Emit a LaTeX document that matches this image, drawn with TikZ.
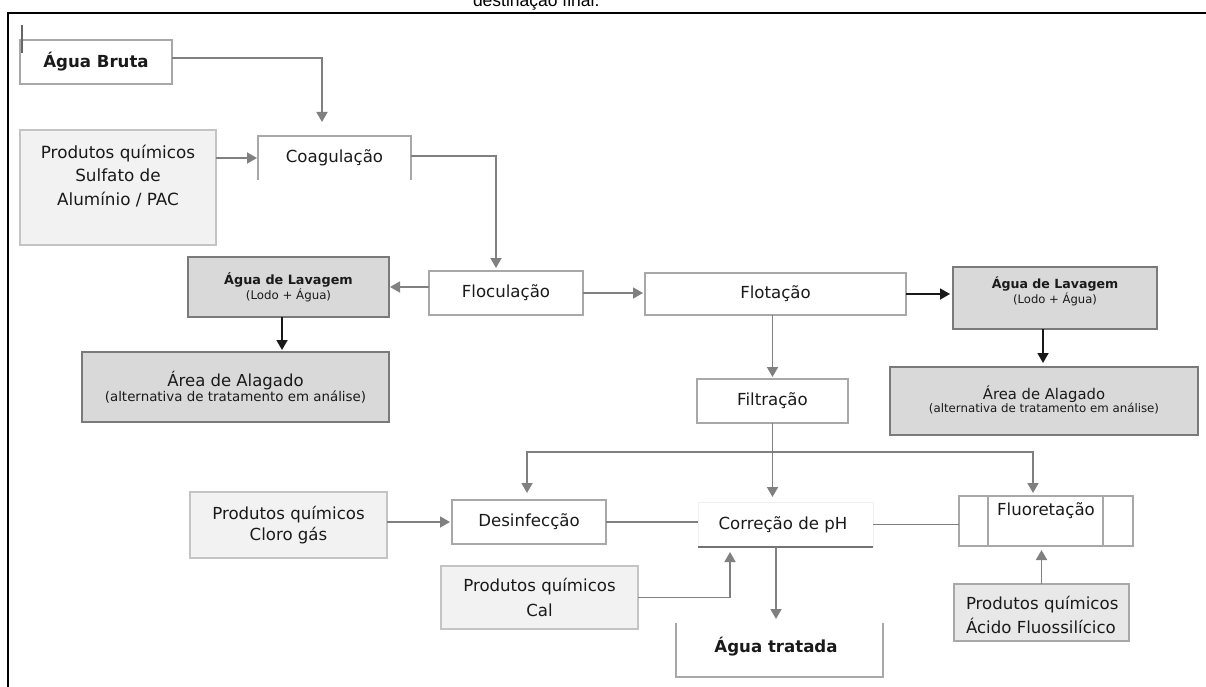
\documentclass[tikz,border=0pt]{standalone}
\usepackage{fontspec}
\setmainfont{DejaVu Sans}
\newfontfamily\hdrfont{Liberation Sans}
\usetikzlibrary{arrows.meta}
\definecolor{conncol}{HTML}{808080}
\definecolor{bordercol}{HTML}{A8A8A8}
\definecolor{lightborder}{HTML}{C4C4C4}
\definecolor{lightfill}{HTML}{F2F2F2}
\definecolor{acidfill}{HTML}{E8E8E8}
\definecolor{darkfill}{HTML}{D9D9D9}
\definecolor{darkborder}{HTML}{7A7A7A}
\definecolor{txt}{HTML}{1A1A1A}
\begin{document}
\begin{tikzpicture}[x=1pt,y=-1pt,
  every node/.style={inner sep=0pt, outer sep=0pt, text=txt, align=center},
  mainfont/.style={font=\fontsize{16.6}{22}\selectfont},
  wbox/.style={rectangle, draw=bordercol, line width=1.3pt, fill=white},
  lbox/.style={rectangle, draw=lightborder, line width=1.3pt, fill=lightfill},
  gbox/.style={rectangle, draw=darkborder, line width=1.5pt, fill=darkfill},
  nobox/.style={rectangle},
  openline/.style={draw=bordercol, line width=1.3pt},
  conn/.style={draw=conncol, line width=1.8pt, -{Triangle[length=10pt,width=11pt]}},
  plainconn/.style={draw=conncol, line width=1.8pt},
  blkconn/.style={draw=black!90, line width=1.8pt, -{Triangle[length=10pt,width=11pt]}}
]
\useasboundingbox (0,0) rectangle (1206,687);

% frame and clipped header
\node[anchor=base west, text=black] (hdr) at (473,7) {\hdrfont\fontsize{17.5}{20}\selectfont destinação final.};
\draw[black, line width=1.2pt] (8,687) -- (8,13) -- (1206,13);

% nodes
\node[wbox, minimum width=152pt, minimum height=44pt, font=\fontsize{16.6}{22}\selectfont\bfseries] (bruta) at (96,62) {Água Bruta};
\draw[draw=black!60, line width=1.5pt] ([xshift=2pt,yshift=15pt]bruta.north west) -- ([xshift=2pt,yshift=-13pt]bruta.north west);

\node[lbox, minimum width=196pt, minimum height=115pt] (sulf) at (118,187.5) {};
\node[font=\fontsize{16.8}{23.5}\selectfont] (sulft) at (118,176) {Produtos químicos\\Sulfato de\\Alumínio / PAC};

\node[nobox, minimum width=153pt, minimum height=44pt, mainfont] (coag) at (334.5,158) {Coagulação};
\draw[openline] (coag.south west) |- (coag.north east) -- (coag.south east);

\node[wbox, minimum width=154pt, minimum height=44pt, mainfont] (floc) at (506,293) {Floculação};

\node[gbox, minimum width=201pt, minimum height=60pt] (lav1) at (288.5,287)
  {{\fontsize{12.8}{16}\selectfont\bfseries Água de Lavagem}\\{\fontsize{11.8}{16}\selectfont (Lodo + Água)}};

\node[gbox, minimum width=307pt, minimum height=70pt] (area1) at (235.5,387)
  {{\fontsize{16.5}{19}\selectfont Área de Alagado}\\{\fontsize{13.4}{19}\selectfont (alternativa de tratamento em análise)}};

\node[wbox, minimum width=261pt, minimum height=42pt, mainfont] (flot) at (775.5,294) {Flotação};

\node[gbox, minimum width=204pt, minimum height=62pt] (lav2) at (1055,298) {};
\node (lav2t) at (1055,291.5)
  {{\fontsize{12.6}{17}\selectfont\bfseries Água de Lavagem}\\{\fontsize{11.6}{17}\selectfont (Lodo + Água)}};

\node[gbox, minimum width=308pt, minimum height=68pt] (area2) at (1044,401) {};
\node (area2t) at (1044,400)
  {{\fontsize{14.8}{20}\selectfont Área de Alagado}\\{\fontsize{11.8}{20}\selectfont (alternativa de tratamento em análise)}};

\node[wbox, minimum width=151pt, minimum height=44pt, mainfont] (filt) at (772.5,401) {Filtração};

\node[wbox, minimum width=154pt, minimum height=44pt, mainfont] (desinf) at (529,522) {Desinfecção};

\node[lbox, minimum width=197pt, minimum height=66pt, font=\fontsize{16.6}{21}\selectfont] (cloro) at (288.5,525) {Produtos químicos\\Cloro gás};

\node[rectangle, draw=black!6, line width=1pt, minimum width=175pt, minimum height=45pt] (corr) at (785.5,524.5) {};
\node[mainfont] (corrt) at (783,525) {Correção de pH};
\draw[draw=black!55, line width=1.5pt] (corr.south west) -- (corr.south east);

\node[wbox, minimum width=174pt, minimum height=50pt] (fluor) at (1046,521) {};
\draw[draw=bordercol, line width=1.3pt] ([xshift=29pt]fluor.north west) -- ([xshift=29pt]fluor.south west);
\draw[draw=bordercol, line width=1.3pt] ([xshift=-30pt]fluor.north east) -- ([xshift=-30pt]fluor.south east);
\node[mainfont] (fluort) at (1046,511) {Fluoretação};

\node[rectangle, draw=bordercol, line width=1.3pt, fill=acidfill, minimum width=175pt, minimum height=57pt] (acido) at (1041.5,612.5) {};
\node[anchor=west, align=left, font=\fontsize{16.6}{24}\selectfont] (acidot) at (966,615) {Produtos químicos\\Ácido Fluossilícico};

\node[lbox, minimum width=197pt, minimum height=63pt, font=\fontsize{16.6}{25}\selectfont] (cal) at (539.5,597.5) {Produtos químicos\\Cal};

\node[nobox, minimum width=207pt, minimum height=54pt] (trat) at (779.5,650) {};
\node[font=\fontsize{16.6}{22}\selectfont\bfseries] (tratt) at (776,647) {Água tratada};
\draw[openline] (trat.north west) |- (trat.south east) -- (trat.north east);

% connectors
\draw[conn, shorten >=14pt] ([yshift=4pt]bruta.east) -| ([xshift=-12.5pt]coag.north);
\draw[conn, shorten >=1pt] (sulf.east |- coag.west) -- (coag.west);
\draw[conn, shorten >=3pt] ([yshift=2pt]coag.east) -| ([xshift=-10pt]floc.north);
\draw[conn, shorten >=1pt] (floc.west |- lav1.east) -- (lav1.east);
\draw[blkconn, shorten >=2pt] ([xshift=-6.5pt]lav1.south) -- ([xshift=-6.5pt]lav1.south |- area1.north);
\draw[conn, shorten >=2pt] (floc.east) -- (flot.west |- floc.east);
\draw[blkconn, shorten >=3pt] (flot.east) -- (lav2.west |- flot.east);
\draw[blkconn, shorten >=4pt] ([xshift=-12pt]lav2.south) -- ([xshift=-12pt]lav2.south |- area2.north);
\draw[conn, shorten >=2pt] (filt.north |- flot.south) -- (filt.north);

\coordinate (hub) at (772.5,452);
\draw[conn, shorten >=5pt] (filt.south) -- (filt.south |- corr.north);
\draw[conn, shorten >=7pt] (hub) -| ([xshift=-2pt]desinf.north);
\draw[conn, shorten >=3pt] (hub) -| ([xshift=-13pt]fluor.north);

\draw[conn, shorten >=2pt] (cloro.east |- desinf.west) -- (desinf.west);
\draw[plainconn] (desinf.east) -- (corr.west |- desinf.east);
\draw[plainconn] (corr.east) -- (fluor.west |- corr.east);
\draw[conn, shorten >=4pt] (acido.north) -- (acido.north |- fluor.south);
\draw[conn, shorten >=5pt] (cal.east) -| ([xshift=-55.5pt]corr.south);
\draw[conn, shorten >=4pt] ([xshift=-9.5pt]corr.south) -- ([xshift=-9.5pt]corr.south |- trat.north);
\end{tikzpicture}
\end{document}
